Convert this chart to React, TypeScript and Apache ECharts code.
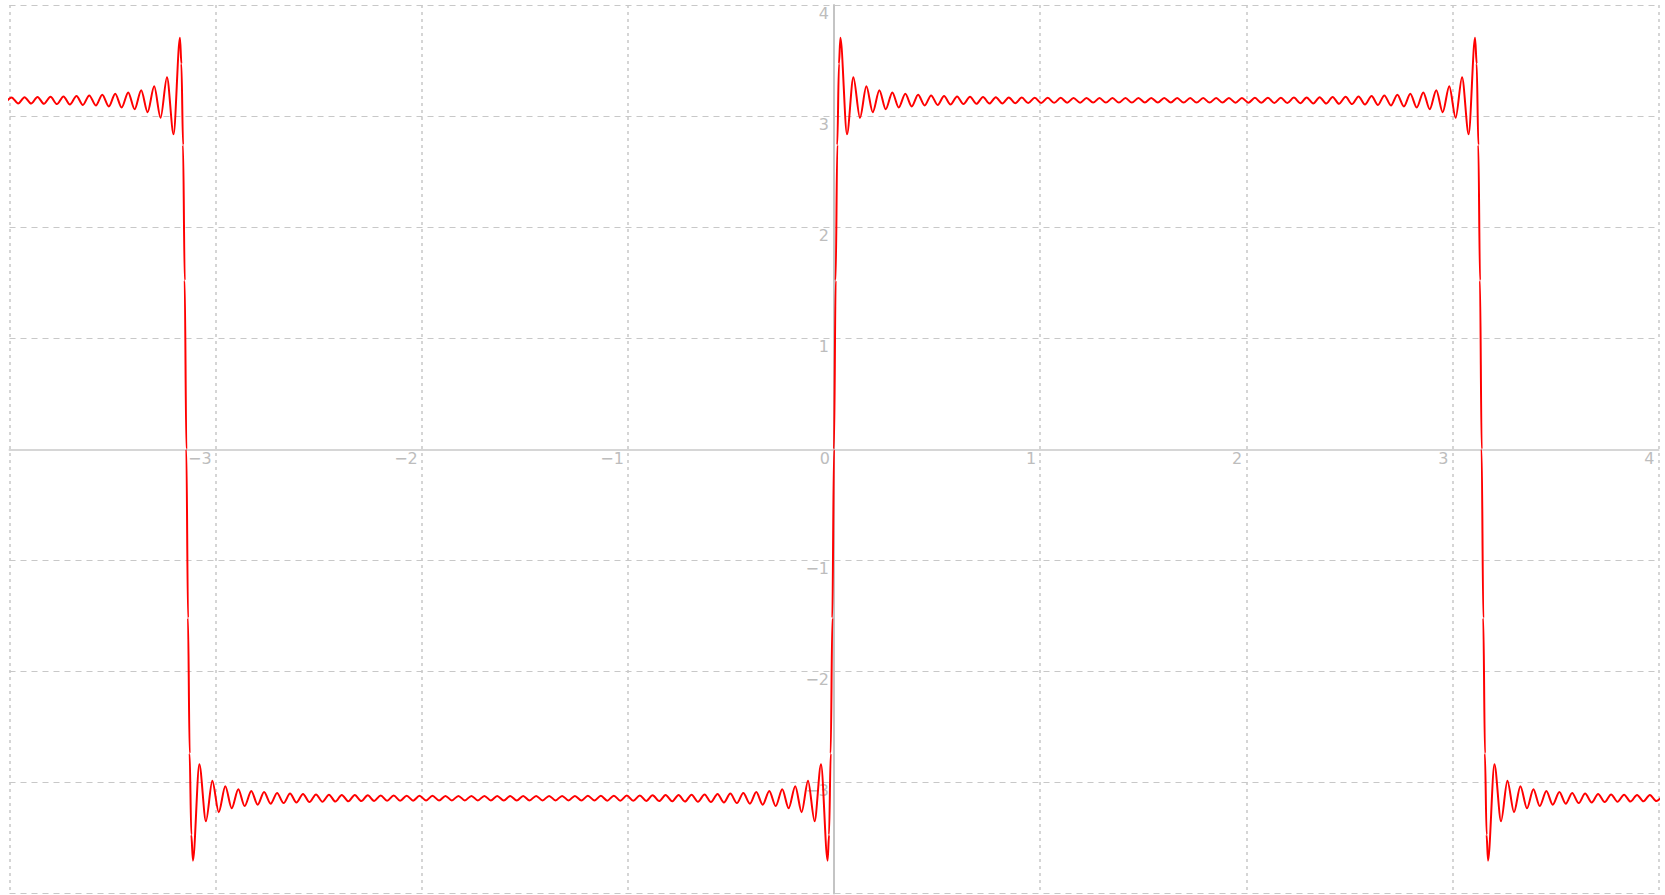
import React, { useEffect, useRef } from "react";
import * as echarts from "echarts";

// Positive plateau left of x = -π (tail, clipped at x = -4)
const leftTailX = [-4.021, -3.990, -3.958, -3.927, -3.895, -3.864, -3.833, -3.801, -3.770, -3.738, -3.707, -3.675, -3.644, -3.613, -3.581, -3.550, -3.518, -3.487, -3.456, -3.424, -3.393, -3.361, -3.330, -3.298, -3.267, -3.236, -3.204, -3.173];
const leftTailY = [3.116, 3.168, 3.114, 3.170, 3.112, 3.172, 3.110, 3.174, 3.108, 3.177, 3.104, 3.181, 3.100, 3.186, 3.095, 3.192, 3.087, 3.201, 3.077, 3.213, 3.061, 3.233, 3.035, 3.268, 2.984, 3.350, 2.836, 3.704];

// Fall at x = -π
const fallLeftX = [-3.166, -3.158, -3.150, -3.142, -3.134, -3.126, -3.118];
const fallLeftY = [3.47, 2.74, 1.52, 0, -1.52, -2.74, -3.47];

// Negative plateau (-π, 0)
const negPlateauX = [-3.110, -3.079, -3.047, -3.016, -2.985, -2.953, -2.922, -2.890, -2.859, -2.827, -2.796, -2.765, -2.733, -2.702, -2.670, -2.639, -2.608, -2.576, -2.545, -2.513, -2.482, -2.450, -2.419, -2.388, -2.356, -2.325, -2.293, -2.262, -2.231, -2.199, -2.168, -2.136, -2.105, -2.073, -2.042, -2.011, -1.979, -1.948, -1.916, -1.885, -1.854, -1.822, -1.791, -1.759, -1.728, -1.696, -1.665, -1.634, -1.602, -1.571, -1.539, -1.508, -1.477, -1.445, -1.414, -1.382, -1.351, -1.319, -1.288, -1.257, -1.225, -1.194, -1.162, -1.131, -1.100, -1.068, -1.037, -1.005, -0.974, -0.942, -0.911, -0.880, -0.848, -0.817, -0.785, -0.754, -0.723, -0.691, -0.660, -0.628, -0.597, -0.565, -0.534, -0.503, -0.471, -0.440, -0.408, -0.377, -0.346, -0.314, -0.283, -0.251, -0.220, -0.188, -0.157, -0.126, -0.094, -0.063, -0.031];
const negPlateauY = [-3.704, -2.836, -3.350, -2.984, -3.268, -3.035, -3.233, -3.061, -3.213, -3.077, -3.201, -3.087, -3.192, -3.095, -3.186, -3.100, -3.181, -3.104, -3.177, -3.108, -3.174, -3.110, -3.172, -3.112, -3.170, -3.114, -3.168, -3.116, -3.167, -3.117, -3.166, -3.118, -3.165, -3.119, -3.164, -3.120, -3.163, -3.120, -3.163, -3.121, -3.162, -3.121, -3.162, -3.121, -3.162, -3.121, -3.162, -3.122, -3.162, -3.122, -3.162, -3.122, -3.162, -3.121, -3.162, -3.121, -3.162, -3.121, -3.162, -3.121, -3.163, -3.120, -3.163, -3.120, -3.164, -3.119, -3.165, -3.118, -3.166, -3.117, -3.167, -3.116, -3.168, -3.114, -3.170, -3.112, -3.172, -3.110, -3.174, -3.108, -3.177, -3.104, -3.181, -3.100, -3.186, -3.095, -3.192, -3.087, -3.201, -3.077, -3.213, -3.061, -3.233, -3.035, -3.268, -2.984, -3.350, -2.836, -3.704];

// Rise at x = 0
const riseX = [-0.024, -0.016, -0.008, 0, 0.008, 0.016, 0.024];
const riseY = [-3.47, -2.74, -1.52, 0, 1.52, 2.74, 3.47];

// Positive plateau (0, π)
const posPlateauX = [0.031, 0.063, 0.094, 0.126, 0.157, 0.188, 0.220, 0.251, 0.283, 0.314, 0.346, 0.377, 0.408, 0.440, 0.471, 0.503, 0.534, 0.565, 0.597, 0.628, 0.660, 0.691, 0.723, 0.754, 0.785, 0.817, 0.848, 0.880, 0.911, 0.942, 0.974, 1.005, 1.037, 1.068, 1.100, 1.131, 1.162, 1.194, 1.225, 1.257, 1.288, 1.319, 1.351, 1.382, 1.414, 1.445, 1.477, 1.508, 1.539, 1.571, 1.602, 1.634, 1.665, 1.696, 1.728, 1.759, 1.791, 1.822, 1.854, 1.885, 1.916, 1.948, 1.979, 2.011, 2.042, 2.073, 2.105, 2.136, 2.168, 2.199, 2.231, 2.262, 2.293, 2.325, 2.356, 2.388, 2.419, 2.450, 2.482, 2.513, 2.545, 2.576, 2.608, 2.639, 2.670, 2.702, 2.733, 2.765, 2.796, 2.827, 2.859, 2.890, 2.922, 2.953, 2.985, 3.016, 3.047, 3.079, 3.110];
const posPlateauY = [3.704, 2.836, 3.350, 2.984, 3.268, 3.035, 3.233, 3.061, 3.213, 3.077, 3.201, 3.087, 3.192, 3.095, 3.186, 3.100, 3.181, 3.104, 3.177, 3.108, 3.174, 3.110, 3.172, 3.112, 3.170, 3.114, 3.168, 3.116, 3.167, 3.117, 3.166, 3.118, 3.165, 3.119, 3.164, 3.120, 3.163, 3.120, 3.163, 3.121, 3.162, 3.121, 3.162, 3.121, 3.162, 3.121, 3.162, 3.122, 3.162, 3.122, 3.162, 3.122, 3.162, 3.121, 3.162, 3.121, 3.162, 3.121, 3.162, 3.121, 3.163, 3.120, 3.163, 3.120, 3.164, 3.119, 3.165, 3.118, 3.166, 3.117, 3.167, 3.116, 3.168, 3.114, 3.170, 3.112, 3.172, 3.110, 3.174, 3.108, 3.177, 3.104, 3.181, 3.100, 3.186, 3.095, 3.192, 3.087, 3.201, 3.077, 3.213, 3.061, 3.233, 3.035, 3.268, 2.984, 3.350, 2.836, 3.704];

// Fall at x = π
const fallRightX = [3.118, 3.126, 3.134, 3.142, 3.150, 3.158, 3.166];
const fallRightY = [3.47, 2.74, 1.52, 0, -1.52, -2.74, -3.47];

// Negative plateau right of x = π (tail, clipped at x = 4)
const rightTailX = [3.173, 3.204, 3.236, 3.267, 3.299, 3.330, 3.362, 3.393, 3.424, 3.456, 3.487, 3.519, 3.550, 3.581, 3.613, 3.644, 3.676, 3.707, 3.739, 3.770, 3.801, 3.833, 3.864, 3.896, 3.927, 3.958, 3.990, 4.021];
const rightTailY = [-3.704, -2.836, -3.350, -2.984, -3.268, -3.035, -3.233, -3.061, -3.213, -3.077, -3.201, -3.087, -3.192, -3.095, -3.186, -3.100, -3.181, -3.104, -3.177, -3.108, -3.174, -3.110, -3.172, -3.112, -3.170, -3.114, -3.168, -3.116];

const axisTicks = [-4, -3, -2, -1, 0, 1, 2, 3, 4];

function pairs(xs: number[], ys: number[]) {
  return xs.map((x, i) => [x, ys[i]]);
}

const fmt = (v: number) => (v < 0 ? "\u2212" + Math.abs(v) : String(v));

const W = 1665;
const H = 895;
const GRID = { left: 9.5, right: 6.5, top: 5, bottom: 1.5 };

export default function App() {
  const ref = useRef<HTMLDivElement>(null);
  useEffect(() => {
    document.body.style.margin = "0";
    document.body.style.overflow = "hidden";
    const chart = echarts.init(ref.current!, null, { renderer: "svg" });
    const data = [
      ...pairs(leftTailX, leftTailY),
      ...pairs(fallLeftX, fallLeftY),
      ...pairs(negPlateauX, negPlateauY),
      ...pairs(riseX, riseY),
      ...pairs(posPlateauX, posPlateauY),
      ...pairs(fallRightX, fallRightY),
      ...pairs(rightTailX, rightTailY),
    ];
    const gridW = W - GRID.left - GRID.right;
    const gridH = H - GRID.top - GRID.bottom;
    const labelStyle = {
      color: "#bdbdbd",
      fontSize: 16,
      fontFamily: "DejaVu Sans",
    };
    chart.setOption({
      animation: false,
      backgroundColor: "#ffffff",
      grid: { ...GRID, containLabel: false, outerBoundsMode: "none" },
      xAxis: {
        type: "value",
        position: "bottom",
        offset: -gridH / 2,
        min: axisTicks[0],
        max: axisTicks[axisTicks.length - 1],
        interval: 1,
        axisLine: { onZero: false, lineStyle: { color: "#d6d6d6", width: 2 } },
        axisTick: { show: false },
        axisLabel: {
          ...labelStyle,
          align: "right",
          verticalAlign: "top",
          margin: 1,
          padding: [0, 4, 0, 0],
          formatter: (v: number) => (v === -4 ? "" : fmt(v)),
        },
        splitLine: { show: true, lineStyle: { color: "#c8c8c8", width: 1.5, type: [3, 4] } },
      },
      yAxis: {
        type: "value",
        position: "left",
        offset: -gridW / 2,
        min: axisTicks[0],
        max: axisTicks[axisTicks.length - 1],
        interval: 1,
        axisLine: { onZero: false, lineStyle: { color: "#c4c4c4", width: 2 } },
        axisTick: { show: false },
        axisLabel: {
          ...labelStyle,
          align: "right",
          verticalAlign: "top",
          margin: 5,
          formatter: (v: number) => (v === 0 || v === -4 ? "" : fmt(v)),
        },
        splitLine: { show: true, lineStyle: { color: "#c8c8c8", width: 1.2, type: [6, 5] } },
      },
      series: [
        {
          type: "line",
          data,
          showSymbol: false,
          smooth: 0.3,
          smoothMonotone: "x",
          clip: true,
          lineStyle: { color: "#ff0000", width: 2 },
        },
      ],
    });
    return () => chart.dispose();
  }, []);
  return <div ref={ref} style={{ width: W, height: H }} />;
}
